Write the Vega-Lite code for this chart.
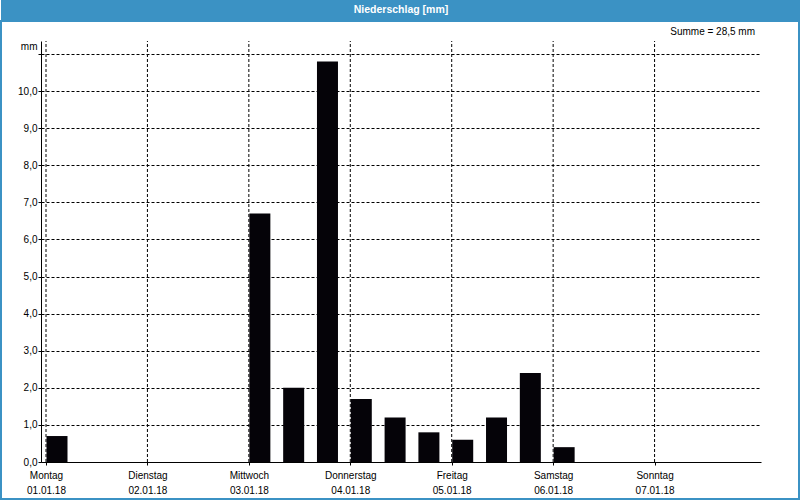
{
  "$schema": "https://vega.github.io/schema/vega-lite/v6.json",
  "background": "white",
  "padding": 0,
  "spacing": 0,
  "config": {
    "font": "'Liberation Sans', sans-serif",
    "axis": {"labelColor": "black", "titleColor": "black", "labelFontSize": 10, "titleFontSize": 10, "titleFontWeight": "normal"}
  },
  "datasets": {
    "kopf": [{"titel": "Niederschlag [mm]"}],
    "summe": [{"text": "Summe = 28,5 mm"}],
    "tage": [
      {"tag": "2018-01-01T00:00"},
      {"tag": "2018-01-02T00:00"},
      {"tag": "2018-01-03T00:00"},
      {"tag": "2018-01-04T00:00"},
      {"tag": "2018-01-05T00:00"},
      {"tag": "2018-01-06T00:00"},
      {"tag": "2018-01-07T00:00"}
    ],
    "niederschlag": [
      {"zeit": "2018-01-01T00:00", "mm": 0.7},
      {"zeit": "2018-01-01T08:00", "mm": 0},
      {"zeit": "2018-01-01T16:00", "mm": 0},
      {"zeit": "2018-01-02T00:00", "mm": 0},
      {"zeit": "2018-01-02T08:00", "mm": 0},
      {"zeit": "2018-01-02T16:00", "mm": 0},
      {"zeit": "2018-01-03T00:00", "mm": 6.7},
      {"zeit": "2018-01-03T08:00", "mm": 2.0},
      {"zeit": "2018-01-03T16:00", "mm": 10.8},
      {"zeit": "2018-01-04T00:00", "mm": 1.7},
      {"zeit": "2018-01-04T08:00", "mm": 1.2},
      {"zeit": "2018-01-04T16:00", "mm": 0.8},
      {"zeit": "2018-01-05T00:00", "mm": 0.6},
      {"zeit": "2018-01-05T08:00", "mm": 1.2},
      {"zeit": "2018-01-05T16:00", "mm": 2.4},
      {"zeit": "2018-01-06T00:00", "mm": 0.4},
      {"zeit": "2018-01-06T08:00", "mm": 0},
      {"zeit": "2018-01-06T16:00", "mm": 0},
      {"zeit": "2018-01-07T00:00", "mm": 0},
      {"zeit": "2018-01-07T08:00", "mm": 0},
      {"zeit": "2018-01-07T16:00", "mm": 0}
    ]
  },
  "vconcat": [
    {
      "width": 800,
      "height": 20,
      "view": {"fill": "#3b92c4", "stroke": null},
      "data": {"name": "kopf"},
      "mark": {"type": "text", "color": "white", "font": "'Liberation Sans', sans-serif", "fontWeight": "bold", "fontSize": 10.5, "align": "center", "baseline": "middle"},
      "encoding": {"text": {"field": "titel"}}
    },
    {
      "width": 798,
      "height": 478,
      "view": {"fill": "white", "stroke": "#3b92c4", "strokeWidth": 2},
      "layer": [
        {
          "data": {"name": "tage"},
          "mark": {"type": "rule", "color": "black", "strokeWidth": 1, "strokeDash": [3, 2]},
          "encoding": {
            "x": {"field": "tag", "type": "temporal"},
            "y": {"datum": 0, "type": "quantitative"},
            "y2": {"datum": 11.35}
          }
        },
        {
          "data": {"name": "niederschlag"},
          "mark": {"type": "bar", "color": "#050308", "width": 21, "xOffset": 11},
          "encoding": {
            "x": {
              "field": "zeit",
              "type": "temporal",
              "scale": {"domain": [{"year": 2018, "month": 1, "date": 1}, {"year": 2018, "month": 1, "date": 8}], "nice": false, "range": [40, 760]},
              "axis": {
                "title": null,
                "offset": -37,
                "values": [
                  {"year": 2018, "month": 1, "date": 1},
                  {"year": 2018, "month": 1, "date": 2},
                  {"year": 2018, "month": 1, "date": 3},
                  {"year": 2018, "month": 1, "date": 4},
                  {"year": 2018, "month": 1, "date": 5},
                  {"year": 2018, "month": 1, "date": 6},
                  {"year": 2018, "month": 1, "date": 7}
                ],
                "labelExpr": "[['Sonntag','Montag','Dienstag','Mittwoch','Donnerstag','Freitag','Samstag'][day(datum.value)], timeFormat(datum.value, '%d.%m.%y')]",
                "labelLineHeight": 15,
                "labelPadding": 5,
                "labelFlush": false,
                "labelOverlap": false,
                "tickSize": 3,
                "tickColor": "black",
                "domain": true,
                "domainColor": "black",
                "domainWidth": 1,
                "grid": false
              }
            },
            "y": {
              "field": "mm",
              "type": "quantitative",
              "scale": {"domain": [0, 11.35], "nice": false, "range": [441, 20]},
              "axis": {
                "offset": -40,
                "values": [0, 1, 2, 3, 4, 5, 6, 7, 8, 9, 10, 11],
                "labelExpr": "datum.value > 10.5 ? '' : replace(format(datum.value, '.1f'), '.', ',')",
                "title": "mm",
                "titleAngle": 0,
                "titleAlign": "right",
                "titleBaseline": "middle",
                "titleX": -4,
                "titleY": 25,
                "tickSize": 3,
                "tickColor": "black",
                "labelPadding": 1,
                "domain": true,
                "domainColor": "black",
                "domainWidth": 1,
                "grid": true,
                "gridDash": [3, 2],
                "gridColor": "black",
                "gridOpacity": 1
              }
            }
          }
        },
        {
          "mark": {"type": "rule", "color": "black", "strokeWidth": 1},
          "encoding": {
            "x": {"datum": {"year": 2018, "month": 1, "date": 8}, "type": "temporal"},
            "y": {"datum": 0, "type": "quantitative"},
            "y2": {"datum": 11.35}
          }
        },
        {
          "mark": {"type": "rule", "color": "black", "strokeWidth": 1},
          "encoding": {
            "x": {"datum": {"year": 2018, "month": 1, "date": 1}, "type": "temporal"},
            "x2": {"datum": {"year": 2018, "month": 1, "date": 8}},
            "y": {"datum": 11.35, "type": "quantitative"}
          }
        },
        {
          "data": {"name": "summe"},
          "mark": {"type": "text", "color": "black", "fontSize": 10, "align": "right", "baseline": "middle", "dx": -1, "dy": -9},
          "encoding": {
            "x": {"datum": {"year": 2018, "month": 1, "date": 8}, "type": "temporal"},
            "y": {"datum": 11.35, "type": "quantitative"},
            "text": {"field": "text"}
          }
        }
      ]
    }
  ]
}
